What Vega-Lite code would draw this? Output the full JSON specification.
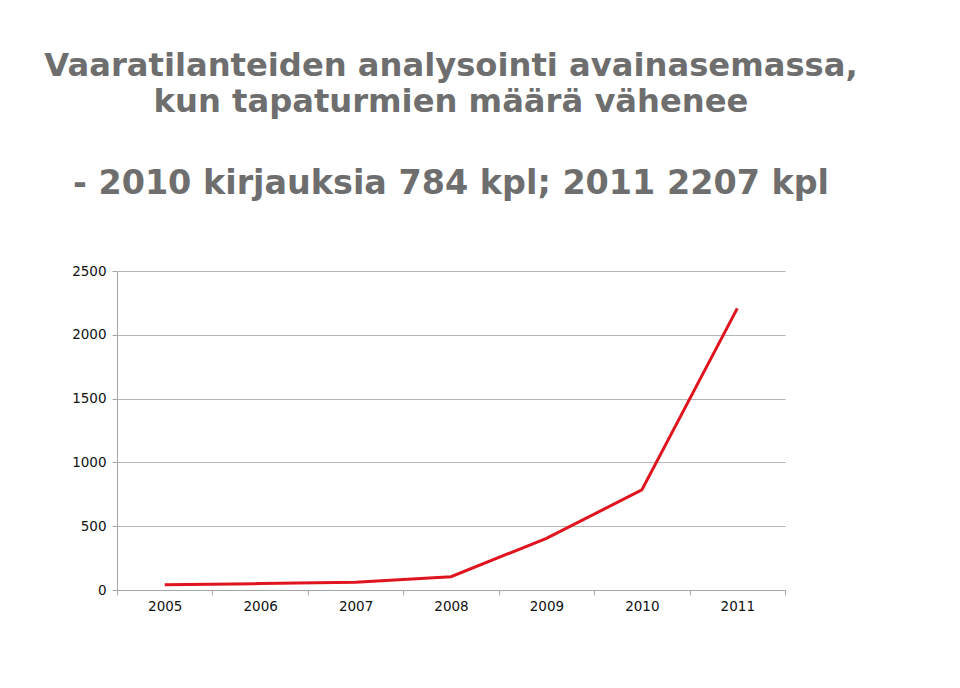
{
  "$schema": "https://vega.github.io/schema/vega-lite/v6.json",
  "width": 668,
  "height": 319,
  "padding": {"left": 44, "top": 50, "right": 10, "bottom": 10},
  "background": "white",
  "title": {
    "text": ["Vaaratilanteiden analysointi avainasemassa,", "kun tapaturmien määrä vähenee"],
    "subtitle": "- 2010 kirjauksia 784 kpl; 2011 2207 kpl",
    "anchor": "middle",
    "frame": "group",
    "font": "DejaVu Sans",
    "fontSize": 32.2,
    "fontWeight": "bold",
    "color": "#6e6e6e",
    "lineHeight": 36,
    "subtitleFont": "DejaVu Sans",
    "subtitleFontSize": 33.4,
    "subtitleFontWeight": "bold",
    "subtitleColor": "#6e6e6e",
    "subtitlePadding": 48,
    "offset": 63
  },
  "data": {
    "values": [
      {"year": "2005", "count": 42},
      {"year": "2006", "count": 50},
      {"year": "2007", "count": 60},
      {"year": "2008", "count": 104},
      {"year": "2009", "count": 405},
      {"year": "2010", "count": 784},
      {"year": "2011", "count": 2207}
    ]
  },
  "mark": {"type": "line", "color": "#e0141e", "strokeWidth": 3},
  "encoding": {
    "x": {
      "field": "year",
      "type": "ordinal",
      "scale": {"type": "band", "paddingInner": 0, "paddingOuter": 0},
      "axis": {
        "title": null,
        "labelAngle": 0,
        "tickBand": "extent",
        "labelFont": "DejaVu Sans",
        "labelFontSize": 13.5,
        "labelColor": "#111",
        "domainColor": "#a6a6a6",
        "tickColor": "#a6a6a6",
        "tickSize": 5,
        "labelPadding": 4,
        "grid": false
      }
    },
    "y": {
      "field": "count",
      "type": "quantitative",
      "scale": {"domain": [0, 2500]},
      "axis": {
        "title": null,
        "values": [0, 500, 1000, 1500, 2000, 2500],
        "labelFont": "DejaVu Sans",
        "labelFontSize": 13.5,
        "labelColor": "#111",
        "domainColor": "#a6a6a6",
        "tickColor": "#a6a6a6",
        "gridColor": "#b5b5b5",
        "tickSize": 5,
        "labelPadding": 6,
        "format": "d"
      }
    }
  },
  "config": {"view": {"stroke": null}}
}
